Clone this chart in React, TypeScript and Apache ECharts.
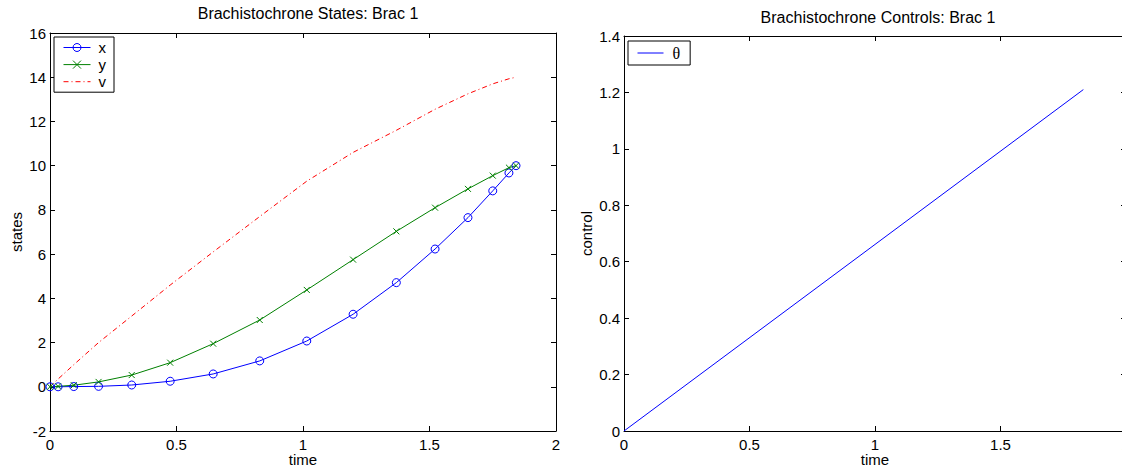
import React, { useEffect, useRef } from "react";
import * as echarts from "echarts";

const timeNodes = [0, 0.032, 0.094, 0.192, 0.323, 0.475, 0.645, 0.829, 1.015, 1.198, 1.369, 1.522, 1.652, 1.75, 1.814, 1.842];
const xState = [0, 0, 0.01, 0.02, 0.08, 0.25, 0.58, 1.17, 2.07, 3.28, 4.71, 6.23, 7.65, 8.86, 9.67, 10.0];
const yState = [0, 0.02, 0.07, 0.22, 0.53, 1.09, 1.95, 3.02, 4.38, 5.75, 7.03, 8.1, 8.95, 9.55, 9.91, 10.0];
const vState = [0, 0.35, 1.0, 2.0, 3.2, 4.6, 6.1, 7.7, 9.3, 10.6, 11.6, 12.55, 13.25, 13.7, 13.93, 14.0];
const thetaTime = [0, 1.83];
const thetaValue = [0, 1.21];

const FONT = "Liberation Sans, Arial, Helvetica, sans-serif";

function pairs(xs: number[], ys: number[]) {
  return xs.map((x, i) => [x, ys[i]]);
}

export default function App() {
  const ref = useRef<HTMLDivElement>(null);
  useEffect(() => {
    if (!ref.current) return;
    const chart = echarts.init(ref.current, null, { renderer: "svg" });
    const labelStyle = { color: "#000", fontFamily: FONT, fontSize: 15 };
    const tick = { show: true, inside: true, length: 5, lineStyle: { color: "#000", width: 1 } };
    const axisLine = { show: true, onZero: false, lineStyle: { color: "#000", width: 1 } };
    const mkX = (grid: number, pos: string, labels: boolean, name?: string) => ({
      type: "value",
      gridIndex: grid,
      position: pos,
      min: 0,
      max: 2,
      interval: 0.5,
      axisLine,
      axisTick: tick,
      splitLine: { show: false },
      axisLabel: { show: labels, ...labelStyle, margin: 6 },
      name: name,
      nameLocation: "middle",
      nameGap: 21,
      nameMoveOverlap: false,
      nameTextStyle: { ...labelStyle },
    });
    const mkY = (grid: number, pos: string, labels: boolean, min: number, max: number, interval: number, name?: string, gap = 26) => ({
      type: "value",
      gridIndex: grid,
      position: pos,
      min,
      max,
      interval,
      axisLine,
      axisTick: tick,
      splitLine: { show: false },
      axisLabel: { show: labels, ...labelStyle, margin: 4 },
      name: name,
      nameLocation: "middle",
      nameGap: gap,
      nameMoveOverlap: false,
      nameRotate: 90,
      nameTextStyle: { ...labelStyle },
    });
    const blue = "#0000ff";
    const green = "#008000";
    const red = "#ff0000";
    const legendCommon = {
      orient: "vertical",
      itemWidth: 27,
      itemHeight: 10,
      borderColor: "#000",
      borderWidth: 1,
      borderRadius: 0,
      backgroundColor: "#fff",
      lineStyle: { width: 1 },
      itemStyle: { borderWidth: 1 },
    };
    chart.setOption({
      animation: false,
      backgroundColor: "#fff",
      title: [
        { text: "Brachistochrone States: Brac 1", left: 303, top: 0, textAlign: "center", textStyle: { ...labelStyle, fontSize: 16, fontWeight: "normal" } },
        { text: "Brachistochrone Controls: Brac 1", left: 873, top: 4, textAlign: "center", textStyle: { ...labelStyle, fontSize: 16, fontWeight: "normal" } },
      ],
      grid: [
        { left: 50, top: 33, width: 506, height: 398, outerBoundsMode: "none" },
        { left: 624, top: 36, width: 502, height: 395, outerBoundsMode: "none" },
      ],
      legend: [
        {
          ...legendCommon,
          data: [
            { name: "x" },
            { name: "y" },
            { name: "v", itemStyle: { opacity: 0 } },
          ],
          left: 54,
          top: 37,
          itemGap: 2.1,
          padding: [3, 8, 3, 9],
          textStyle: { ...labelStyle, padding: [0, 0, 0, 3] },
        },
        {
          ...legendCommon,
          data: [{ name: "θ", itemStyle: { opacity: 0 } }],
          left: 628,
          top: 41,
          itemWidth: 26,
          padding: [4, 10, 4, 9],
          textStyle: { color: "#000", fontFamily: "Liberation Serif, Times New Roman, serif", fontSize: 16, padding: [0, 0, 0, 4] },
        },
      ],
      xAxis: [
        mkX(0, "bottom", true, "time"),
        mkX(0, "top", false),
        mkX(1, "bottom", true, "time"),
        mkX(1, "top", false),
      ],
      yAxis: [
        mkY(0, "left", true, -2, 16, 2, "states", 26),
        mkY(0, "right", false, -2, 16, 2),
        mkY(1, "left", true, 0, 1.4, 0.2, "control", 30),
        mkY(1, "right", false, 0, 1.4, 0.2),
      ],
      series: [
        {
          name: "x",
          type: "line",
          xAxisIndex: 0,
          yAxisIndex: 0,
          data: pairs(timeNodes, xState),
          symbol: "circle",
          symbolSize: 8,
          showSymbol: true,
          clip: false,
          lineStyle: { color: blue, width: 1 },
          itemStyle: { color: "transparent", borderColor: blue, borderWidth: 1 },
        },
        {
          name: "y",
          type: "line",
          xAxisIndex: 0,
          yAxisIndex: 0,
          data: pairs(timeNodes, yState),
          symbol: "path://M0,0L10,10M10,0L0,10",
          symbolSize: 6,
          showSymbol: true,
          clip: false,
          lineStyle: { color: green, width: 1 },
          itemStyle: { color: "transparent", borderColor: green, borderWidth: 1 },
        },
        {
          name: "v",
          type: "line",
          xAxisIndex: 0,
          yAxisIndex: 0,
          data: pairs(timeNodes, vState),
          symbol: "none",
          clip: false,
          lineStyle: { color: red, width: 1, type: [5, 3, 1, 3] },
          itemStyle: { color: red },
        },
        {
          name: "θ",
          type: "line",
          xAxisIndex: 2,
          yAxisIndex: 2,
          data: pairs(thetaTime, thetaValue),
          symbol: "none",
          clip: false,
          lineStyle: { color: blue, width: 1 },
          itemStyle: { color: blue },
        },
      ],
    });
    return () => chart.dispose();
  }, []);
  return <div ref={ref} style={{ position: "absolute", left: 0, top: 0, width: 1122, height: 467 }} />;
}
